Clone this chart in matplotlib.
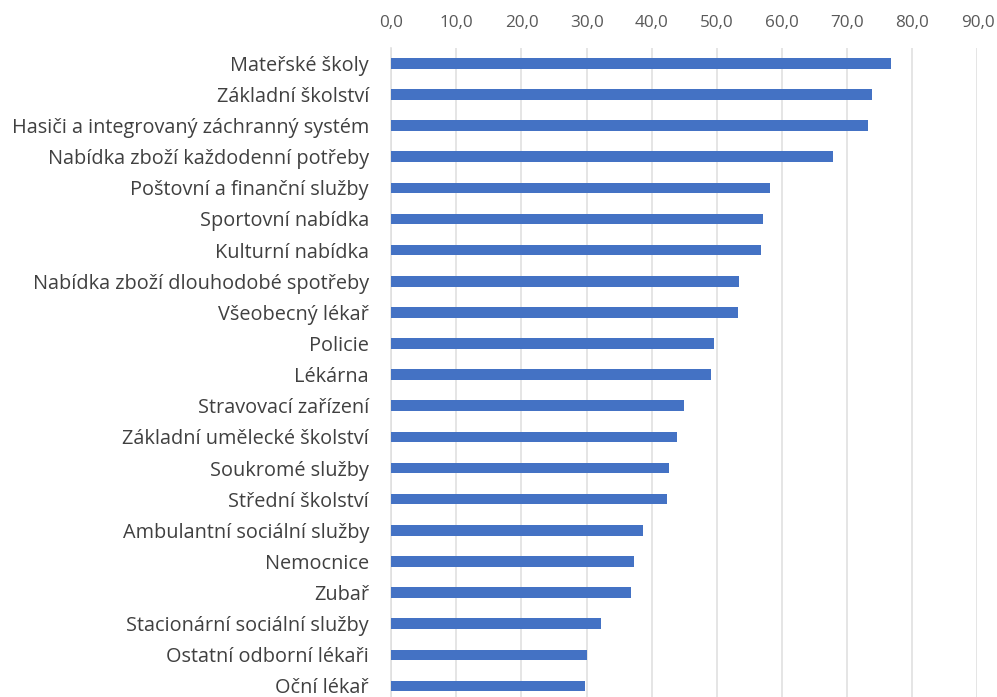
import matplotlib.pyplot as plt
from matplotlib.ticker import FuncFormatter

categories = [
    'Mateřské školy',
    'Základní školství',
    'Hasiči a integrovaný záchranný systém',
    'Nabídka zboží každodenní potřeby',
    'Poštovní a finanční služby',
    'Sportovní nabídka',
    'Kulturní nabídka',
    'Nabídka zboží dlouhodobé spotřeby',
    'Všeobecný lékař',
    'Policie',
    'Lékárna',
    'Stravovací zařízení',
    'Základní umělecké školství',
    'Soukromé služby',
    'Střední školství',
    'Ambulantní sociální služby',
    'Nemocnice',
    'Zubař',
    'Stacionární sociální služby',
    'Ostatní odborní lékaři',
    'Oční lékař',
]
values = [76.8, 73.8, 73.2, 67.8, 58.2, 57.0, 56.7, 53.4, 53.2, 49.6, 49.1,
          44.9, 43.9, 42.6, 42.3, 38.6, 37.3, 36.8, 32.2, 30.0, 29.8]
ticks = [0, 10, 20, 30, 40, 50, 60, 70, 80, 90]

plt.rcParams['font.family'] = ['Open Sans', 'DejaVu Sans']

fig = plt.figure(figsize=(9.97, 6.97), dpi=100)
ax = fig.add_axes([0.3924, -0.0065, 0.588, 0.938])

pos = list(range(len(categories)))
ax.barh(pos, values, height=0.34, color='#4472C4', zorder=3)
ax.set_ylim(len(categories) - 0.5, -0.5)
ax.set_xlim(0, 90)

ax.set_yticks(pos)
ax.set_yticklabels(categories, fontsize=14.3, color='#404040')
ax.set_xticks(ticks)
ax.xaxis.set_major_formatter(FuncFormatter(lambda v, p: f'{v:.1f}'.replace('.', ',')))
ax.xaxis.tick_top()
ax.tick_params(axis='x', length=0, labelsize=12.3, labelcolor='#595959', pad=12)
ax.tick_params(axis='y', length=0, pad=16)

ax.grid(axis='x', color='#E0E0E0', linewidth=1.2, zorder=0)
for s in ['top', 'right', 'bottom']:
    ax.spines[s].set_visible(False)
ax.spines['left'].set_color('#E0E0E0')
ax.spines['left'].set_linewidth(1.2)

fig.savefig('out.png', dpi=100)
